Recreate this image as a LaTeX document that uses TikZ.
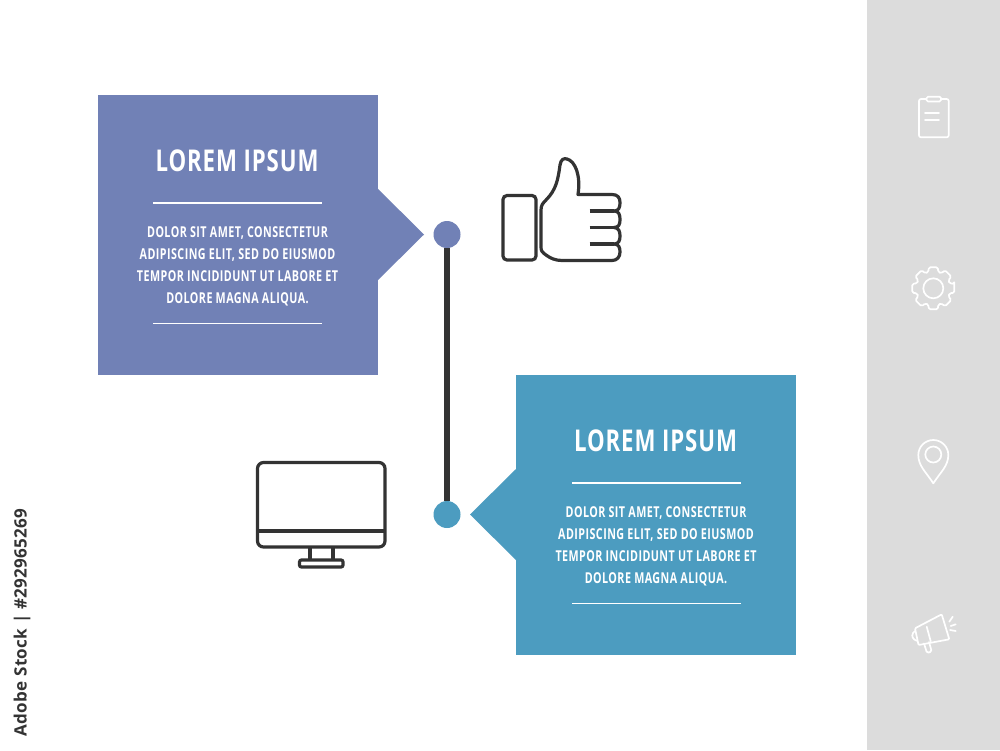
\documentclass[tikz,border=0pt]{standalone}
\usepackage{fontspec}
\setmainfont{Open Sans}
\newfontfamily\condfont[FakeStretch=0.74,LetterSpace=3,BoldFont={Open Sans Bold}]{Open Sans}
\newfontfamily\smallfont[FakeStretch=0.715,LetterSpace=3,BoldFont={Open Sans Bold}]{Open Sans}
\newfontfamily\stockfont[FakeStretch=1.0,LetterSpace=2,BoldFont={Open Sans Bold}]{Open Sans}
\definecolor{panelpurple}{HTML}{7181B6}
\definecolor{panelblue}{HTML}{4C9CC0}
\definecolor{sidegray}{HTML}{DCDCDC}
\definecolor{icondark}{HTML}{333333}
\tikzset{
    panel/.style={minimum size=280.5pt, inner sep=0pt},
    dot/.style={circle, minimum size=27pt, inner sep=0pt},
    title/.style={text=white, font=\condfont\bfseries\fontsize{30}{30}\selectfont},
    body/.style={text=white, font=\smallfont\bfseries\fontsize{15}{22}\selectfont, align=center},
    whiterule/.style={draw=white, line width=1.6pt},
    darkicon/.style={draw=icondark, line width=3.2pt, rounded corners=4pt},
    lighticon/.style={draw=white, line width=1.7pt, line join=round, line cap=round}
}
\begin{document}
\begin{tikzpicture}[x=1pt, y=-1pt]
    \useasboundingbox (0, 0) rectangle (1000, 750);
    \fill[white] (0, 0) rectangle (1000, 750);
    \fill[sidegray] (867, 0) rectangle (1000, 750);
    % panels
    \node[panel, fill=panelpurple] (boxa) at (237.75, 234.75) {};
    \node[panel, fill=panelblue] (boxb) at (656, 515) {};
    \fill[panelpurple] (377, 188) -- (424, 234.5) -- (377, 281) -- cycle;
    \fill[panelblue] (517, 468) -- (470, 514.5) -- (517, 561) -- cycle;
    % timeline
    \node[dot, fill=panelpurple] (dota) at (447, 234.5) {};
    \node[dot, fill=panelblue] (dotb) at (447, 514.5) {};
    \draw[icondark, line width=5.5pt] (dota) -- (dotb);
    % texts
    \node[title] (titlea) at (237, 160.5) {LOREM IPSUM};
    \node[body] (bodya) at (237.5, 266.5) {DOLOR SIT AMET, CONSECTETUR\\ADIPISCING ELIT, SED DO EIUSMOD\\TEMPOR INCIDIDUNT UT LABORE ET\\DOLORE MAGNA ALIQUA.};
    \draw[whiterule] (153, 203) -- (322, 203);
    \draw[whiterule] (153, 323.5) -- (322, 323.5);
    \node[title] (titleb) at (655.5, 440.5) {LOREM IPSUM};
    \node[body] (bodyb) at (656, 546.5) {DOLOR SIT AMET, CONSECTETUR\\ADIPISCING ELIT, SED DO EIUSMOD\\TEMPOR INCIDIDUNT UT LABORE ET\\DOLORE MAGNA ALIQUA.};
    \draw[whiterule] (572, 483) -- (740.5, 483);
    \draw[whiterule] (572, 603.5) -- (740.5, 603.5);
    % thumb
    \draw[darkicon] (503, 195.5) rectangle (536, 260);
    \draw[icondark, line width=3.2pt, line join=round]
        (541, 210) .. controls (541, 205) and (543, 203) .. (546, 200)
        .. controls (556, 190) and (558, 180) .. (560, 165)
        .. controls (561, 159) and (564, 158) .. (567, 159)
        .. controls (575, 161) and (581, 175) .. (578, 194.5)
        -- (612, 194.5)
        .. controls (618, 194.5) and (620, 198) .. (620, 202.5)
        .. controls (620, 207) and (619, 211) .. (614, 211)
        .. controls (619, 211) and (620, 215) .. (620, 219.5)
        .. controls (620, 224) and (619, 227.5) .. (614, 227.5)
        .. controls (619, 227.5) and (620, 232) .. (620, 236)
        .. controls (620, 240) and (619, 244) .. (614, 244)
        .. controls (619, 244) and (620, 248) .. (620, 252)
        .. controls (620, 257) and (617, 260.5) .. (612, 260.5)
        -- (562, 260.5)
        .. controls (555, 260.5) and (550, 258) .. (546, 255)
        .. controls (542, 252) and (541, 251) .. (541, 247)
        -- cycle;
    \draw[icondark, line width=3.2pt] (589.5, 211) -- (614, 211);
    \draw[icondark, line width=3.2pt] (589.5, 227.5) -- (614, 227.5);
    \draw[icondark, line width=3.2pt] (589.5, 244) -- (614, 244);
    % monitor
    \draw[darkicon, rounded corners=6pt] (257.5, 462.5) rectangle (385, 547);
    \draw[icondark, line width=3.2pt] (257.5, 531) -- (385, 531);
    \draw[icondark, line width=3.2pt] (310, 547) -- (310, 560) (333, 547) -- (333, 560);
    \draw[darkicon, rounded corners=2pt] (299.5, 560) rectangle (343, 567);
    % clipboard
    \draw[lighticon, rounded corners=2pt] (926.5, 99) -- (919, 99) -- (919, 137.3) -- (948.7, 137.3) -- (948.7, 99) -- (941, 99);
    \draw[lighticon, rounded corners=1.5pt] (926.5, 96.7) rectangle (941, 101.5);
    \draw[lighticon] (925, 113.3) -- (939, 113.3) (925, 120) -- (939, 120);
    % gear
    \begin{scope}[shift={(933.3, 288.3)}]
        \draw[lighticon, rounded corners=1.5pt] (-12:21.5) \foreach \a in {0,45,...,315} {
            -- (\a-12:21.5) -- (\a+12:21.5) -- (\a+17:17) -- (\a+28:17)
        } -- cycle;
        \draw[lighticon] (0, 0) circle (10);
    \end{scope}
    % pin
    \draw[lighticon] (933.3, 483.3) .. controls (926, 472) and (918.3, 466) .. (918.3, 455)
        arc[start angle=180, end angle=360, radius=15]
        .. controls (948.3, 466) and (940.6, 472) .. (933.3, 483.3) -- cycle;
    \draw[lighticon] (933.3, 454.5) circle (8);
    % megaphone
    \draw[lighticon, rounded corners=1pt] (915, 628.3) -- (941.7, 614.3) -- (949.3, 639.3) -- (918.5, 645) -- cycle;
    \draw[lighticon] (926.7, 626.7) -- (930.7, 641.3);
    \draw[lighticon, rounded corners=1.5pt] (915, 631) -- (912, 634) -- (913, 639) -- (917.5, 641);
    \draw[lighticon, rounded corners=1.5pt] (924, 643.5) -- (927, 653) -- (931.7, 651.5) -- (929, 642);
    \draw[lighticon] (949.3, 621.7) -- (952.7, 616.7) (950.7, 626) -- (955.7, 624.3) (950, 630) -- (955.7, 631);
    % stock line
    \node[rotate=90, text=icondark, anchor=center] (stockline) at (22, 622.5) {\stockfont\bfseries\fontsize{17}{17}\selectfont Adobe Stock | \#292965269};
\end{tikzpicture}
\end{document}
